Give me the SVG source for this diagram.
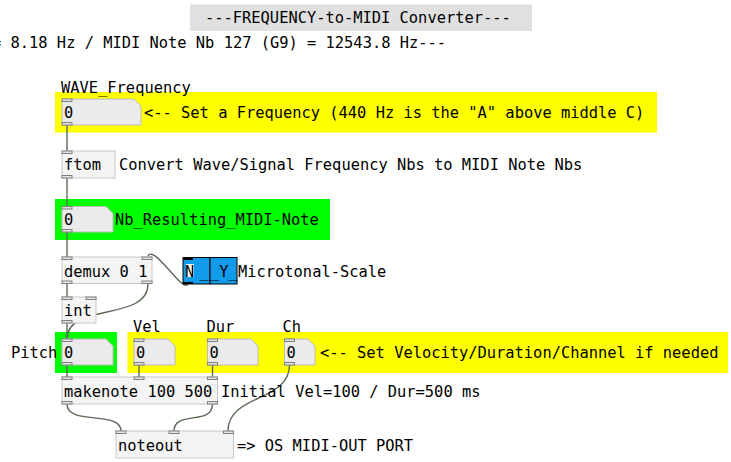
<svg xmlns="http://www.w3.org/2000/svg" width="731" height="462" viewBox="0 0 731 462">
<style>
text{font-family:"DejaVu Sans Mono","Liberation Mono",monospace;font-size:15.4px;fill:#000}
.obj{fill:#f4f4f4;stroke:#c8c8c8;stroke-width:1}
.num{fill:#ebebeb;stroke:#bcbcbc;stroke-width:1}
.io{fill:#e4e4e4;stroke:#808080;stroke-width:1}
.cord{fill:none;stroke:#5b6b57;stroke-width:1.4}
.yel{fill:#ffff00}
.grn{fill:#00ff00}
</style>
<rect width="731" height="462" fill="#fff"/>
<g id="title">
<rect x="190" y="4.5" width="342" height="26.5" fill="#e0e0e0"/>
<text x="205" y="23">---FREQUENCY-to-MIDI Converter---</text>
</g>
<g id="subtitle"><text x="-8" y="47.5">= 8.18 Hz / MIDI Note Nb 127 (G9) = 12543.8 Hz---</text></g>
<g id="backgrounds">
<rect class="yel" x="55" y="92" width="602" height="40.5"/>
<rect class="grn" x="55" y="199" width="275" height="41"/>
<rect class="grn" x="55" y="332" width="62" height="41"/>
<rect class="yel" x="127.5" y="332" width="600.5" height="41"/>
</g>
<g id="connectors">
<line class="cord" x1="67" y1="125" x2="67" y2="151"/>
<line class="cord" x1="67" y1="178" x2="67" y2="206.5"/>
<line class="cord" x1="67" y1="232" x2="67" y2="257"/>
<line class="cord" x1="67" y1="283.5" x2="67" y2="297"/>
<line class="cord" x1="67" y1="323" x2="67" y2="339"/>
<line class="cord" x1="67" y1="365" x2="67" y2="377"/>
<line class="cord" x1="139" y1="365" x2="139" y2="377"/>
<line class="cord" x1="212.5" y1="365" x2="212.5" y2="377"/>
<path class="cord" d="M188,284 C183,294 154,244 148,256"/>
<path class="cord" d="M148,284 C148,322 67,302 67,339"/>
<path class="cord" d="M67,404 C67,426 121,410 121,431"/>
<path class="cord" d="M212.5,404 C212.5,426 174,410 174,431"/>
<path class="cord" d="M289.5,365 C289.5,402 228,394 228,431"/>
</g>
<g id="wave_label"><text x="61" y="93">WAVE_Frequency</text></g>
<g id="freq_num">
<path class="num" d="M62,99 H134 L141,106 V125 H62 Z"/>
<rect class="io" x="62" y="99" width="10" height="2.5"/>
<rect class="io" x="62" y="122.5" width="10" height="2.5"/>
<text x="64" y="117.5">0</text>
</g>
<g id="freq_comment"><text x="144" y="117.5">&lt;-- Set a Frequency (440 Hz is the "A" above middle C)</text></g>
<g id="ftom">
<rect class="obj" x="62" y="151" width="53" height="27"/>
<rect class="io" x="62" y="151" width="10" height="2.5"/>
<rect class="io" x="62" y="175.5" width="10" height="2.5"/>
<text x="64" y="170">ftom</text>
</g>
<g id="ftom_comment"><text x="119" y="170">Convert Wave/Signal Frequency Nbs to MIDI Note Nbs</text></g>
<g id="midi_num">
<path class="num" d="M62,206.5 H106 L113,213.5 V232 H62 Z"/>
<rect class="io" x="62" y="206.5" width="10" height="2.5"/>
<rect class="io" x="62" y="229.5" width="10" height="2.5"/>
<text x="64" y="224.5">0</text>
<text x="115" y="224.5">Nb_Resulting_MIDI-Note</text>
</g>
<g id="demux">
<rect class="obj" x="62" y="257" width="90" height="26.5"/>
<rect class="io" x="62" y="257" width="10" height="2.5"/>
<rect class="io" x="142" y="257" width="10" height="2.5"/>
<rect class="io" x="62" y="281" width="10" height="2.5"/>
<rect class="io" x="142" y="281" width="10" height="2.5"/>
<text x="64" y="276.5">demux 0 1</text>
</g>
<g id="hradio">
<rect x="183" y="257.5" width="27" height="26.5" fill="#129bea" stroke="#000" stroke-width="1"/>
<rect x="210" y="257.5" width="27" height="26.5" fill="#129bea" stroke="#000" stroke-width="1"/>
<rect x="183" y="257" width="10" height="3" fill="#000"/>
<rect x="183" y="282" width="10" height="2" fill="#000"/>
<rect x="186" y="264" width="8" height="13" fill="#fff"/>
<text x="185" y="276.5">N</text>
<text x="199.5" y="276.5">_</text>
<text x="210" y="276.5">_Y_</text>
</g>
<g id="hradio_label"><text x="238" y="276.5">Microtonal-Scale</text></g>
<g id="int">
<rect class="obj" x="62" y="297" width="34" height="26"/>
<rect class="io" x="62" y="297" width="10" height="2.5"/>
<rect class="io" x="86" y="297" width="10" height="2.5"/>
<rect class="io" x="62" y="320.5" width="10" height="2.5"/>
<text x="64" y="316">int</text>
</g>
<g id="pitch">
<text x="11" y="357.5">Pitch</text>
<path class="num" d="M62,339 H106 L113,346 V365 H62 Z"/>
<rect class="io" x="62" y="339" width="10" height="2.5"/>
<rect class="io" x="62" y="362.5" width="10" height="2.5"/>
<text x="64" y="357.5">0</text>
</g>
<g id="vel">
<text x="133" y="331.5">Vel</text>
<path class="num" d="M134,339 H168 L175,346 V365 H134 Z"/>
<rect class="io" x="134" y="339" width="10" height="2.5"/>
<rect class="io" x="134" y="362.5" width="10" height="2.5"/>
<text x="136" y="357.5">0</text>
</g>
<g id="dur">
<text x="206.5" y="331.5">Dur</text>
<path class="num" d="M207.5,339 H251 L258,346 V365 H207.5 Z"/>
<rect class="io" x="207.5" y="339" width="10" height="2.5"/>
<rect class="io" x="207.5" y="362.5" width="10" height="2.5"/>
<text x="209.5" y="357.5">0</text>
</g>
<g id="ch">
<text x="282.5" y="331.5">Ch</text>
<path class="num" d="M284.5,339 H308 L315,346 V365 H284.5 Z"/>
<rect class="io" x="284.5" y="339" width="10" height="2.5"/>
<rect class="io" x="284.5" y="362.5" width="10" height="2.5"/>
<text x="286.5" y="357.5">0</text>
</g>
<g id="vdc_comment"><text x="320" y="357.5">&lt;-- Set Velocity/Duration/Channel if needed</text></g>
<g id="makenote">
<rect class="obj" x="62" y="377" width="155.5" height="27"/>
<rect class="io" x="62" y="377" width="10" height="2.5"/>
<rect class="io" x="134" y="377" width="10" height="2.5"/>
<rect class="io" x="207.5" y="377" width="10" height="2.5"/>
<rect class="io" x="62" y="401.5" width="10" height="2.5"/>
<rect class="io" x="207.5" y="401.5" width="10" height="2.5"/>
<text x="64" y="396.5">makenote 100 500</text>
</g>
<g id="makenote_comment"><text x="221" y="396.5">Initial Vel=100 / Dur=500 ms</text></g>
<g id="noteout">
<rect class="obj" x="116" y="431" width="117.5" height="27"/>
<rect class="io" x="116" y="431" width="10" height="2.5"/>
<rect class="io" x="169" y="431" width="10" height="2.5"/>
<rect class="io" x="223.5" y="431" width="10" height="2.5"/>
<text x="118" y="451">noteout</text>
</g>
<g id="noteout_comment"><text x="237" y="451">=&gt; OS MIDI-OUT PORT</text></g>
</svg>
